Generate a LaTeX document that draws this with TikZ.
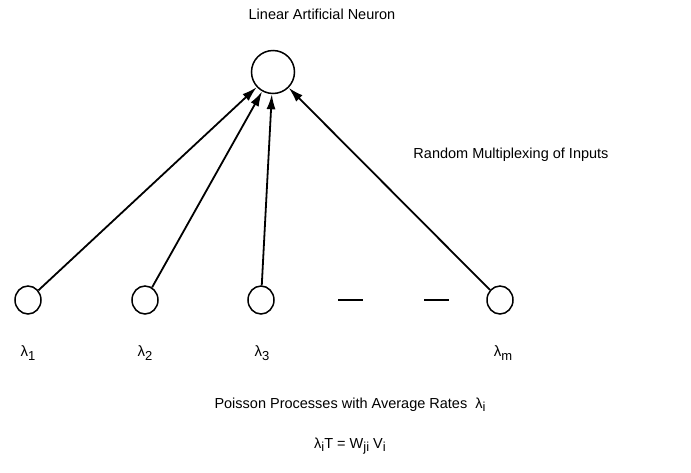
\documentclass[tikz,border=0pt]{standalone}
\usepackage{fontspec}
\setmainfont{Liberation Sans}
\usetikzlibrary{arrows.meta,shapes.geometric}
% lowered subscript in the running text size
\newcommand{\lowidx}[1]{\raisebox{-0.45ex}{\fontsize{13}{13}\selectfont #1}}
\begin{document}
\begin{tikzpicture}[x=1pt,y=-1pt,
  neuron/.style={draw,line width=1.5pt,circle,minimum size=43pt,inner sep=0pt},
  source/.style={draw,line width=1.5pt,ellipse,minimum width=26pt,minimum height=28pt,inner sep=0pt},
  txt/.style={font=\fontsize{14.5}{16}\selectfont,inner sep=0pt},
  lab/.style={font=\fontsize{15}{16}\selectfont,inner sep=0pt},
  feed/.style={line width=1.8pt,-{Latex[length=15pt,width=9pt]}},
  gap/.style={line width=1.5pt}]
\useasboundingbox (0,0) rectangle (691,472);
% output unit and its caption
\node[neuron] (out) at (273,72) {};
\node[txt] (title) at (322,14) {Linear Artificial Neuron};
\node[txt] (mux) at (511,155) {Random Multiplexing of Inputs};
% input sources
\node[source] (s1) at (28,300) {};
\node[source] (s2) at (145,300) {};
\node[source] (s3) at (261,300) {};
\node[source] (sm) at (500,300) {};
% ellipsis between the third and last source
\coordinate (d1a) at (338,300); \coordinate (d1b) at (363,300);
\coordinate (d2a) at (424,300); \coordinate (d2b) at (449,300);
\draw[gap] (d1a) -- (d1b);
\draw[gap] (d2a) -- (d2b);
% connections into the neuron
\draw[feed] (s1) -- (out);
\draw[feed] (s2) -- (out);
\draw[feed] (s3) -- (out);
\draw[feed] (sm) -- (out);
% rate labels
\node[lab] (l1) at (28,353) {λ\lowidx{1}};
\node[lab] (l2) at (145,353) {λ\lowidx{2}};
\node[lab] (l3) at (262,353) {λ\lowidx{3}};
\node[lab] (lm) at (503,353) {λ\lowidx{m}};
% bottom captions
\node[txt] (pp) at (350,405) {Poisson Processes with Average Rates\ \ λ\lowidx{i}};
\node[txt] (eq) at (350,446) {λ\lowidx{i}T = W\lowidx{ji} V\lowidx{i}};
\end{tikzpicture}
\end{document}
